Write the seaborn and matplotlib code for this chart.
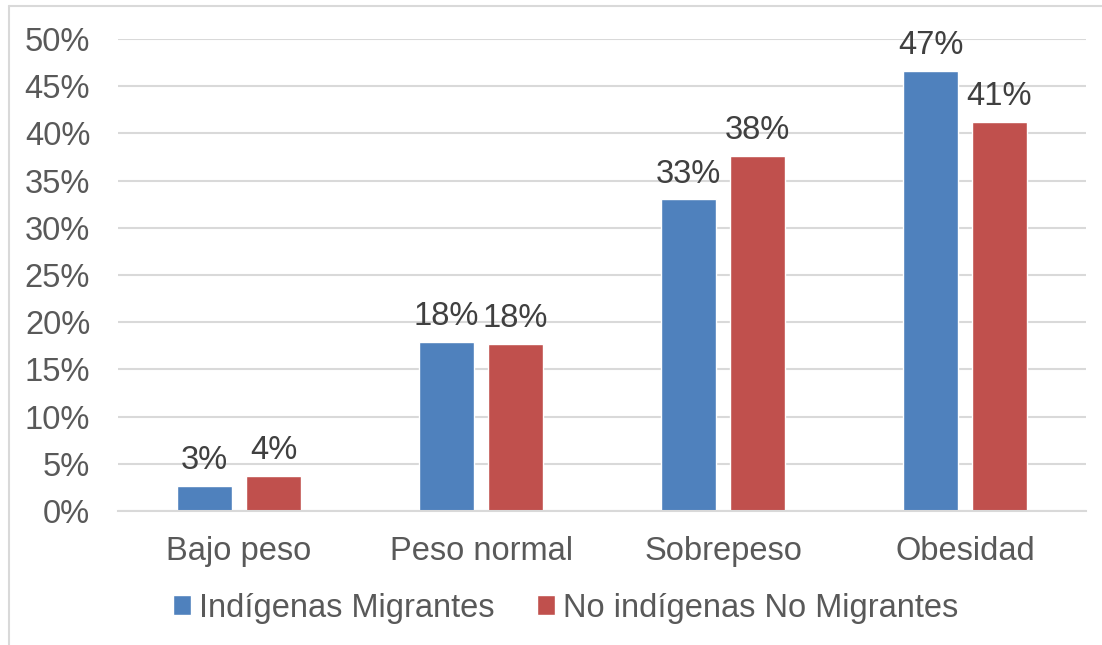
import pandas as pd
import matplotlib.pyplot as plt
from matplotlib.lines import Line2D
from matplotlib.ticker import PercentFormatter
import seaborn as sns

# Data
categories = ['Bajo peso', 'Peso normal', 'Sobrepeso', 'Obesidad']
indigenas_migrantes = [0.027, 0.179, 0.330, 0.466]
no_indigenas_no_migrantes = [0.037, 0.177, 0.376, 0.412]
series_names = ['Indígenas Migrantes', 'No indígenas No Migrantes']

df = pd.DataFrame({
    'Categoria': categories * 2,
    'Valor': indigenas_migrantes + no_indigenas_no_migrantes,
    'Grupo': [series_names[0]] * 4 + [series_names[1]] * 4,
})

sns.set_style("white")
plt.rcParams['font.family'] = ['Liberation Sans', 'DejaVu Sans']
FS = 23.5

fig = plt.figure(figsize=(11.02, 6.45), dpi=100)
ax = fig.add_axes([118 / 1102, 1 - 511 / 645, (1086 - 118) / 1102, (511 - 39) / 645])

palette = {series_names[0]: '#4F81BD', series_names[1]: '#C0504D'}
sns.barplot(data=df, x='Categoria', y='Valor', hue='Grupo', order=categories,
            hue_order=series_names, palette=palette, width=0.57, gap=0.2,
            saturation=1, ax=ax, legend=True)

# Data labels
for cont in ax.containers:
    labels = [f"{round(b.get_height() * 100)}%" for b in cont]
    ax.bar_label(cont, labels=labels, padding=7, fontsize=FS, color='#404040')

ax.set_ylim(0, 0.5)
ax.set_xlim(-0.5, 3.5)
ax.set_yticks([i / 100 for i in range(0, 51, 5)])
ax.yaxis.set_major_formatter(PercentFormatter(1.0, decimals=0))
ax.yaxis.grid(True, color='#D9D9D9', linewidth=1.5)
ax.set_axisbelow(True)
for side in ['left', 'right', 'top']:
    ax.spines[side].set_visible(False)
ax.spines['bottom'].set_color('#D9D9D9')
ax.spines['bottom'].set_linewidth(1.5)
ax.tick_params(axis='y', length=0, pad=20, labelsize=FS, labelcolor='#595959')
ax.tick_params(axis='x', length=0, pad=18, labelsize=FS, labelcolor='#595959')
ax.set_xlabel('')
ax.set_ylabel('')

handles, lbls = ax.get_legend_handles_labels()
ax.legend_.remove()
fig.legend(handles, lbls, loc='center', bbox_to_anchor=(566 / 1102, 1 - 608 / 645),
           ncol=2, frameon=False, fontsize=FS, labelcolor='#595959',
           handlelength=0.55, handleheight=0.55, handletextpad=0.25, columnspacing=1.3)

# outer chart frame (left and top edges visible)
fig.add_artist(Line2D([9 / 1102, 9 / 1102], [0, 1 - 6 / 645], color='#D9D9D9', linewidth=1.5))
fig.add_artist(Line2D([9 / 1102, 1], [1 - 6 / 645, 1 - 6 / 645], color='#D9D9D9', linewidth=1.5))

fig.savefig('out.png', dpi=100)
